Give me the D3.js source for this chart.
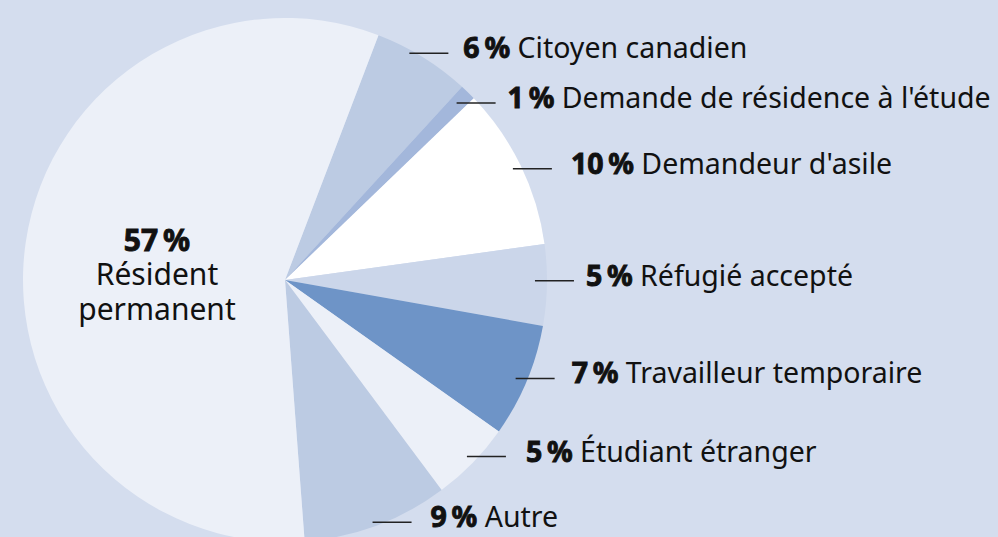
<!DOCTYPE html>
<html>
<head>
<meta charset="utf-8">
<script src="https://cdn.jsdelivr.net/npm/d3@7"></script>
<style>
  body { margin: 0; background: #d4ddee; }
  svg { display: block; }
</style>
</head>
<body>
<div id="chart"></div>
<script>
const width = 998;
const height = 537;

const categories = [
  "Citoyen canadien",
  "Demande de résidence à l'étude",
  "Demandeur d'asile",
  "Réfugié accepté",
  "Travailleur temporaire",
  "Étudiant étranger",
  "Autre",
  "Résident permanent"
];
const values = [6, 1, 10, 5, 7, 5, 9, 57];
const colors = ["#bccbe3", "#a3b7db", "#ffffff", "#cbd6ea", "#6e94c7", "#ecf0f8", "#bccbe3", "#ecf0f8"];

const cx = 285, cy = 280, radius = 262;
const startDeg = 20.9;

// hand placement of the leader lines: [dx, dy, gap from line start to text]
const labelNudge = [
  [-7, -14, 54],
  [-3, 2, 51],
  [3, -2, 58],
  [0, -4, 51],
  [0, 2, 56],
  [3, 2, 59],
  [0, 8, 58]
];

const svg = d3.select("#chart")
  .append("svg")
  .attr("width", width)
  .attr("height", height);

svg.append("rect")
  .attr("width", width)
  .attr("height", height)
  .attr("fill", "#d4ddee");

const pie = d3.pie()
  .sort(null)
  .value(d => d.value)
  .startAngle(startDeg * Math.PI / 180)
  .endAngle(startDeg * Math.PI / 180 + 2 * Math.PI);

const data = categories.map((c, i) => ({ name: c, value: values[i], color: colors[i], idx: i }));
const arcs = pie(data);

const arc = d3.arc().innerRadius(0).outerRadius(radius);

const g = svg.append("g").attr("transform", `translate(${cx},${cy})`);

g.selectAll("path")
  .data(arcs)
  .join("path")
  .attr("d", arc)
  .attr("fill", d => d.data.color);

// outside labels: all slices except the big one
const labelR = 250;
const outer = arcs.filter(d => d.data.value < 50);

const lab = g.selectAll(".lab")
  .data(outer)
  .join("g")
  .attr("class", "lab")
  .attr("transform", d => {
    const a = (d.startAngle + d.endAngle) / 2;
    const n = labelNudge[d.data.idx];
    const x = labelR * Math.sin(a) + n[0];
    const y = -labelR * Math.cos(a) + n[1];
    return `translate(${x},${y})`;
  });

lab.append("line")
  .attr("x1", 0).attr("x2", 39)
  .attr("y1", 0).attr("y2", 0)
  .attr("stroke", "#222")
  .attr("stroke-width", 1.5);

const txt = lab.append("text")
  .attr("x", d => labelNudge[d.data.idx][2])
  .attr("y", 5)
  .attr("fill", "#111")
  .style("font-family", "'Noto Sans', sans-serif")
  .style("font-size", "28.5px");

txt.append("tspan")
  .style("font-weight", 700)
  .attr("stroke", "#111")
  .attr("stroke-width", 0.9)
  .text(d => d.data.value + "\u202F%");

txt.append("tspan")
  .text(d => " " + d.data.name);

// inside label for the big slice
const big = arcs.find(d => d.data.value >= 50);
const center = svg.append("text")
  .attr("text-anchor", "middle")
  .attr("fill", "#111")
  .style("font-family", "'Noto Sans', sans-serif")
  .style("font-size", "30px");

center.append("tspan")
  .attr("x", 157).attr("y", 251)
  .style("font-weight", 700)
  .attr("stroke", "#111")
  .attr("stroke-width", 0.9)
  .text(big.data.value + "\u202F%");

["Résident", "permanent"].forEach((w, i) => {
  center.append("tspan")
    .attr("x", 157).attr("y", 285 + i * 35)
    .text(w);
});
</script>
</body>
</html>
